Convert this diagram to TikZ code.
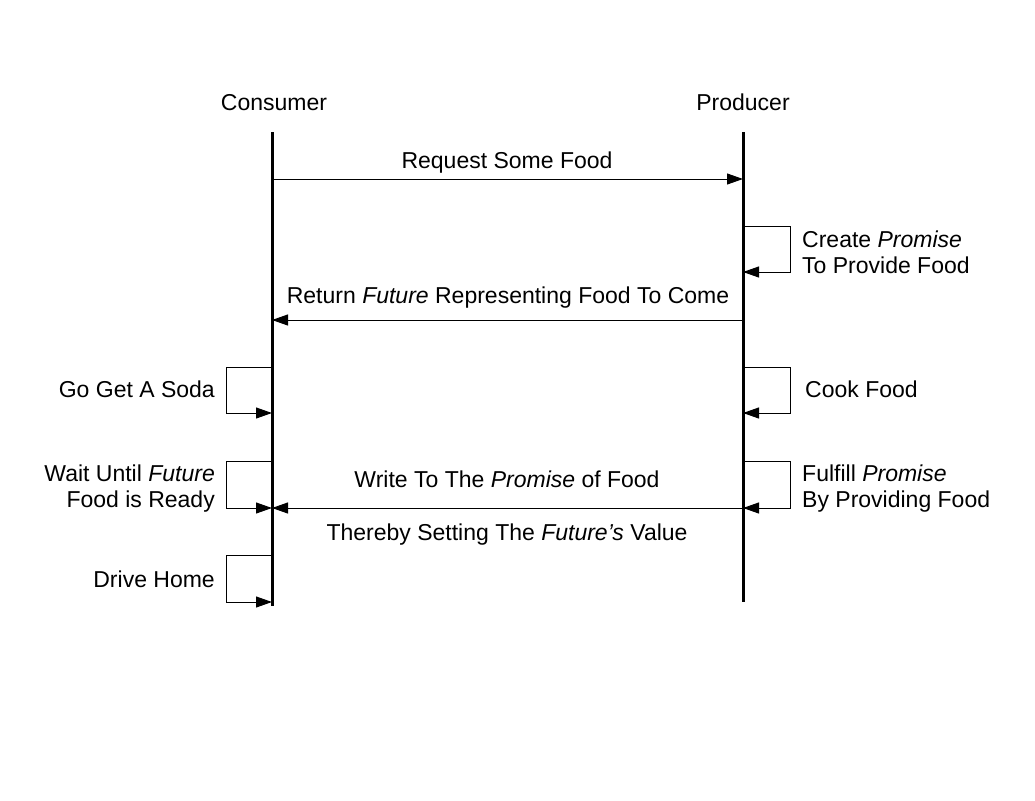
\documentclass[tikz,border=0pt]{standalone}
\usepackage{fontspec}
\setmainfont{Liberation Sans}
\usetikzlibrary{arrows.meta}
\begin{document}
\begin{tikzpicture}[x=1pt,y=-1pt,
  lifeline/.style={line width=3pt},
  msg/.style={line width=1pt,-{Triangle[length=16pt,width=11pt]}},
  selfmsg/.style={line width=1pt,-{Triangle[length=16pt,width=11pt]}},
  lbl/.style={font=\fontsize{23}{26.5}\selectfont,inner sep=0pt,align=center},
  lblC/.style={lbl,anchor=base},
  lblL/.style={lbl,align=left,anchor=west},
  lblR/.style={lbl,align=right,anchor=east},
  lblLb/.style={lbl,anchor=base west},
  lblRb/.style={lbl,anchor=base east}]
\fill[white] (0,0) rectangle (1035,800);
\useasboundingbox (0,0) rectangle (1035,800);
% headers
\node[lblC] (cons) at (274,110) {Consumer};
\node[lblC] (prod) at (743,110) {Producer};
% lifelines
\coordinate (ctop) at (272,132);
\coordinate (cbot) at (272,606);
\coordinate (ptop) at (743,132);
\coordinate (pbot) at (743,602);
\draw[lifeline] (ctop) -- (cbot);
\draw[lifeline] (ptop) -- (pbot);
% message points
\coordinate (c1) at (272,179);
\coordinate (p1) at (743,179);
\coordinate (p2a) at (743,226);
\coordinate (p2b) at (743,272);
\coordinate (c3) at (272,320);
\coordinate (p3) at (743,320);
\coordinate (c4a) at (272,367);
\coordinate (c4b) at (272,413);
\coordinate (p4a) at (743,367);
\coordinate (p4b) at (743,413);
\coordinate (c5a) at (272,461);
\coordinate (c5b) at (272,508);
\coordinate (p5a) at (743,461);
\coordinate (p5b) at (743,508);
\coordinate (c6a) at (272,555);
\coordinate (c6b) at (272,602);
% messages
\draw[msg] (c1) -- (p1);
\node[lblC] (m1) at (507,168) {Request Some Food};
\draw[selfmsg] (p2a) -- ++(47,0) |- (p2b);
\node[lblL] (m2) at (802,252.5) {Create \textit{Promise}\\To Provide Food};
\draw[msg] (p3) -- (c3);
\node[lblC] (m3) at (508,303) {Return \textit{Future} Representing Food To Come};
\draw[selfmsg] (c4a) -- ++(-46,0) |- (c4b);
\node[lblRb] (m4) at (215,397) {Go Get A Soda};
\draw[selfmsg] (p4a) -- ++(47,0) |- (p4b);
\node[lblLb] (m5) at (805,397) {Cook Food};
\draw[selfmsg] (c5a) -- ++(-46,0) |- (c5b);
\node[lblR] (m6) at (215,488.5) {Wait Until \textit{Future}\\Food is Ready};
\draw[selfmsg] (p5a) -- ++(47,0) |- (p5b);
\node[lblL] (m7) at (802,488.5) {Fulfill \textit{Promise}\\By Providing Food};
\draw[msg] (p5b) -- (c5b);
\node[lblC] (m8) at (507,487) {Write To The \textit{Promise} of Food};
\node[lblC] (m9) at (507,540) {Thereby Setting The \textit{Future's} Value};
\draw[selfmsg] (c6a) -- ++(-46,0) |- (c6b);
\node[lblRb] (m10) at (215,587) {Drive Home};
\end{tikzpicture}
\end{document}
